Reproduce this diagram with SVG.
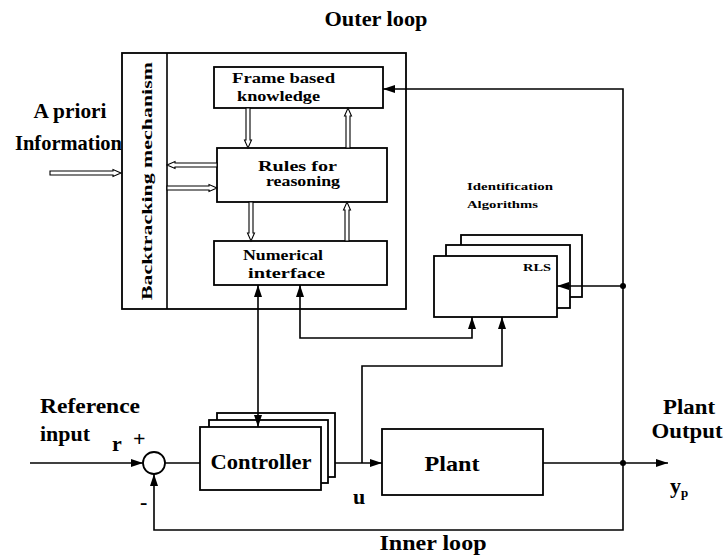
<svg xmlns="http://www.w3.org/2000/svg" width="724" height="557" viewBox="0 0 724 557" font-family="'Liberation Serif', 'DejaVu Serif', serif">
<style>
  .box{fill:#fff;stroke:#000;stroke-width:1.8}
  .ln{fill:none;stroke:#000;stroke-width:1.6}
  .hol{fill:#fff;stroke:#000;stroke-width:1.1}
  text{font-family:'Liberation Serif','DejaVu Serif',serif;font-weight:bold;fill:#000}
  .big{font-size:22px}
  .mid{font-size:15px}
  .sm{font-size:11px}
</style>
<defs>
  <marker id="ah" viewBox="0 0 12 8" refX="12" refY="4" markerWidth="12" markerHeight="8" markerUnits="userSpaceOnUse" orient="auto-start-reverse">
    <path d="M0,0 L12,4 L0,8 Z" fill="#000"/>
  </marker>
</defs>
<rect width="724" height="557" fill="#fff"/>

<text class="big" x="376" y="26" text-anchor="middle" textLength="103" lengthAdjust="spacingAndGlyphs">Outer loop</text>
<text class="big" x="433" y="550" text-anchor="middle" textLength="107" lengthAdjust="spacingAndGlyphs">Inner loop</text>

<g id="expert-system">
  <rect class="box" x="122" y="53" width="284" height="256"/>
  <line class="ln" x1="167" y1="53" x2="167" y2="309"/>
  <text class="mid" transform="translate(152,181) rotate(-90)" text-anchor="middle" font-size="18" textLength="238" lengthAdjust="spacingAndGlyphs">Backtracking mechanism</text>
</g>

<g id="frame">
  <rect class="box" x="214" y="67" width="169" height="41"/>
  <text class="mid" x="232" y="83" textLength="103" lengthAdjust="spacingAndGlyphs">Frame  based</text>
  <text class="mid" x="237" y="101" textLength="83" lengthAdjust="spacingAndGlyphs">knowledge</text>
</g>
<g id="rules">
  <rect class="box" x="217" y="148" width="170" height="54"/>
  <text class="mid" x="258" y="171" textLength="79" lengthAdjust="spacingAndGlyphs">Rules  for</text>
  <text class="mid" x="266" y="186" textLength="74" lengthAdjust="spacingAndGlyphs">reasoning</text>
</g>
<g id="numerical">
  <rect class="box" x="214" y="241" width="173" height="44"/>
  <text class="mid" x="243" y="260" textLength="80" lengthAdjust="spacingAndGlyphs">Numerical</text>
  <text class="mid" x="248" y="278" textLength="77" lengthAdjust="spacingAndGlyphs">interface</text>
</g>

<g id="rls">
  <rect class="box" x="461" y="235" width="121" height="62"/>
  <rect class="box" x="446" y="245" width="124" height="63"/>
  <rect class="box" x="434" y="256" width="123" height="61"/>
  <text class="sm" x="523" y="271" textLength="28" lengthAdjust="spacingAndGlyphs">RLS</text>
</g>
<g id="identification-label">
  <text class="sm" x="467" y="190" textLength="86" lengthAdjust="spacingAndGlyphs">Identification</text>
  <text class="sm" x="467" y="208" textLength="71" lengthAdjust="spacingAndGlyphs">Algorithms</text>
</g>

<g id="controller">
  <rect class="box" x="217" y="413" width="118" height="64"/>
  <rect class="box" x="209" y="420" width="119" height="63"/>
  <rect class="box" x="200" y="427" width="121" height="63"/>
  <text class="big" x="261" y="469" text-anchor="middle" font-size="24" textLength="101" lengthAdjust="spacingAndGlyphs">Controller</text>
</g>
<g id="plant">
  <rect class="box" x="382" y="429" width="161" height="66"/>
  <text class="big" x="452" y="471" text-anchor="middle" textLength="55" lengthAdjust="spacingAndGlyphs">Plant</text>
</g>
<g id="sum">
  <circle class="box" cx="154" cy="463" r="11"/>
</g>

<g id="labels">
  <text class="big" x="70" y="118" text-anchor="middle" textLength="73" lengthAdjust="spacingAndGlyphs">A priori</text>
  <text class="big" x="15" y="150" textLength="107" lengthAdjust="spacingAndGlyphs">Information</text>
  <text class="big" x="40" y="413" textLength="100" lengthAdjust="spacingAndGlyphs">Reference</text>
  <text class="big" x="40" y="441" textLength="50" lengthAdjust="spacingAndGlyphs">input</text>
  <text class="big" x="112" y="451" font-size="20">r</text>
  <text class="big" x="133" y="446" font-size="20">+</text>
  <text class="big" x="140" y="509" font-size="22">-</text>
  <text class="big" x="353" y="504" font-size="22">u</text>
  <text class="big" x="689" y="414" text-anchor="middle" font-size="20" textLength="52" lengthAdjust="spacingAndGlyphs">Plant</text>
  <text class="big" x="687" y="438" text-anchor="middle" font-size="20" textLength="71" lengthAdjust="spacingAndGlyphs">Output</text>
  <text class="big" x="670" y="493" font-size="22">y<tspan font-size="13" dy="4">p</tspan></text>
</g>

<g id="connectors">
  <line class="ln" x1="30" y1="463" x2="143" y2="463" marker-end="url(#ah)"/>
  <line class="ln" x1="165" y1="463" x2="200" y2="463"/>
  <line class="ln" x1="335" y1="463" x2="382" y2="463" marker-end="url(#ah)"/>
  <line class="ln" x1="543" y1="463" x2="668" y2="463" marker-end="url(#ah)"/>
  <path class="ln" d="M623,463 V530 H154 V474" marker-end="url(#ah)"/>
  <path class="ln" d="M623,463 V89 H383" marker-end="url(#ah)"/>
  <line class="ln" x1="623" y1="286" x2="557" y2="286" marker-end="url(#ah)"/>
  <circle cx="623" cy="463" r="3" fill="#000"/>
  <circle cx="623" cy="286" r="3" fill="#000"/>
  <line class="ln" x1="258" y1="285" x2="258" y2="427" marker-start="url(#ah)" marker-end="url(#ah)"/>
  <path class="ln" d="M300,285 V338 H472 V317" marker-start="url(#ah)" marker-end="url(#ah)"/>
  <path class="ln" d="M362,463 V366 H502 V317" marker-end="url(#ah)"/>
  <polygon class="hol" points="50,171 113,171 113,169.5 121,173 113,176.5 113,175 50,175"/>
  <polygon class="hol" points="217,163 175,163 175,161.5 167,165 175,168.5 175,167 217,167"/>
  <polygon class="hol" points="167,186 209,186 209,184.5 217,188 209,191.5 209,190 167,190"/>
  <polygon class="hol" points="246,108 246,140 244.5,140 248,148 251.5,140 250,140 250,108"/>
  <polygon class="hol" points="346,148 346,116 344.5,116 348,108 351.5,116 350,116 350,148"/>
  <polygon class="hol" points="249,202 249,233 247.5,233 251,241 254.5,233 253,233 253,202"/>
  <polygon class="hol" points="345,241 345,210 343.5,210 347,202 350.5,210 349,210 349,241"/>
</g>
</svg>
